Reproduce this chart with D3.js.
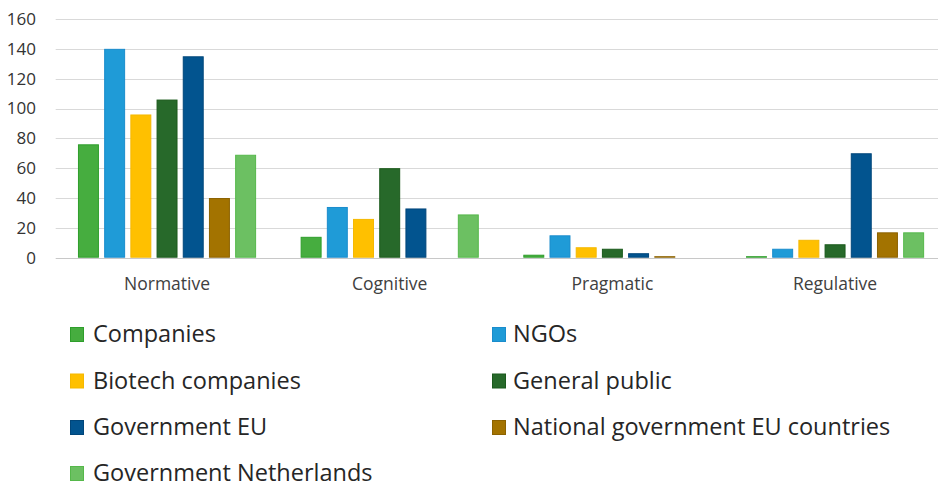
<!DOCTYPE html>
<html>
<head>
<meta charset="utf-8">
<script src="https://cdn.jsdelivr.net/npm/d3@7"></script>
<style>
  html, body { margin: 0; padding: 0; background: #fff; }
  svg { display: block; font-family: "Open Sans", sans-serif; }
</style>
</head>
<body>
<svg id="chart" width="938" height="488"></svg>
<script>
const categories = ["Normative", "Cognitive", "Pragmatic", "Regulative"];
const seriesNames = ["Companies", "NGOs", "Biotech companies", "General public", "Government EU", "National government EU countries", "Government Netherlands"];
const companies      = [76, 14, 2, 1];
const ngos           = [140, 34, 15, 6];
const biotech        = [96, 26, 7, 12];
const generalPublic  = [106, 60, 6, 9];
const governmentEU   = [135, 33, 3, 70];
const nationalGovEU  = [40, 0, 1, 17];
const governmentNL   = [69, 29, 0, 17];
const yTicks = [0, 20, 40, 60, 80, 100, 120, 140, 160];

const seriesValues = [companies, ngos, biotech, generalPublic, governmentEU, nationalGovEU, governmentNL];
const fills   = ["#46ad3f", "#1f9bd7", "#ffc000", "#27692a", "#02548f", "#a37300", "#6cc062"];
const strokes = ["#2e9e2b", "#1a8ccc", "#f5b800", "#1b5a1c", "#01467a", "#8c6200", "#55b84a"];

const svg = d3.select("#chart");

const x0 = d3.scaleBand().domain(categories).range([55.7, 946.4]).paddingInner(0.2).paddingOuter(0.1);
const x1 = d3.scaleBand().domain(seriesNames).range([0, x0.bandwidth()]).paddingInner(0.2).paddingOuter(0);
const y = d3.scaleLinear().domain([0, 160]).range([257.7, 19]);

// gridlines
svg.append("g").selectAll("line").data(yTicks).join("line")
  .attr("x1", 55.7).attr("x2", 946)
  .attr("y1", d => Math.round(y(d)) + 0.5).attr("y2", d => Math.round(y(d)) + 0.5)
  .attr("stroke", d => d === 0 ? "#c8c8c8" : "#d9d9d9").attr("stroke-width", 1);

// y axis labels
const yAxis = d3.axisLeft(y).tickValues(yTicks).tickSize(0).tickPadding(0);
const gy = svg.append("g").attr("transform", "translate(36,0)").call(yAxis);
gy.select(".domain").remove();
gy.selectAll("text").attr("font-size", 17).attr("fill", "#333").attr("font-family", "Open Sans");

// bars
const groups = svg.append("g").selectAll("g").data(categories).join("g")
  .attr("transform", d => `translate(${x0(d)},0)`);
groups.selectAll("rect")
  .data((c, ci) => seriesNames.map((s, si) => ({ s, si, v: seriesValues[si][ci] })).filter(d => d.v > 0))
  .join("rect")
  .attr("x", d => x1(d.s) + 0.5)
  .attr("width", x1.bandwidth() - 1)
  .attr("y", d => y(d.v) + 0.5)
  .attr("height", d => Math.max(0, y(0) - y(d.v) - 1))
  .attr("fill", d => fills[d.si])
  .attr("stroke", d => strokes[d.si])
  .attr("stroke-width", 1);

// category labels
const xAxis = d3.axisBottom(x0).tickSize(0).tickPadding(0);
const gx = svg.append("g").attr("transform", "translate(0,278)").call(xAxis);
gx.select(".domain").remove();
gx.selectAll("text").attr("font-size", 17.5).attr("fill", "#404040").attr("font-family", "Open Sans").attr("dy", "0.71em");

// legend
const legend = svg.append("g");
const colX = [70, 492];
const textX = [93, 513];
const rowBase = [342, 388.5, 435, 481];
seriesNames.forEach((name, i) => {
  const col = i % 2, row = Math.floor(i / 2);
  legend.append("rect")
    .attr("x", colX[col] + 0.5).attr("y", rowBase[row] - 15 + 0.5)
    .attr("width", 13).attr("height", 14)
    .attr("fill", fills[i]).attr("stroke", strokes[i]).attr("stroke-width", 1);
  legend.append("text")
    .attr("x", textX[col]).attr("y", rowBase[row])
    .attr("font-size", 23.5).attr("fill", "#262626")
    .text(name);
});
</script>
</body>
</html>
